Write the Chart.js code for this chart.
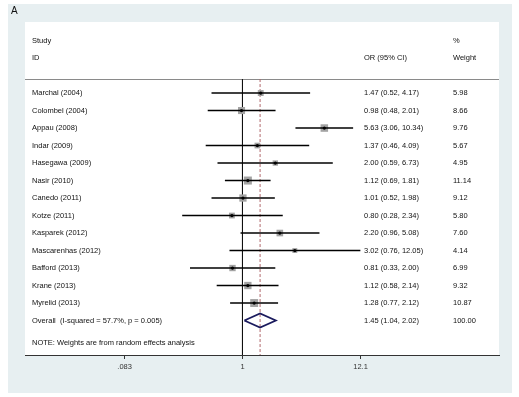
<!DOCTYPE html>
<html>
<head>
<meta charset="utf-8">
<script src="https://cdn.jsdelivr.net/npm/chart.js@4.4.1/dist/chart.umd.min.js"></script>
<style>
  body { margin: 0; background: #fff; }
  #wrap { width: 519px; height: 397px; }
</style>
</head>
<body>
<div id="wrap"><canvas id="myChart" width="519" height="397"></canvas></div>
<script>
// study data
const studies = ['Marchal (2004)', 'Colombel (2004)', 'Appau (2008)', 'Indar (2009)', 'Hasegawa (2009)',
  'Nasir (2010)', 'Canedo (2011)', 'Kotze (2011)', 'Kasparek (2012)', 'Mascarenhas (2012)',
  'Bafford (2013)', 'Krane (2013)', 'Myrelid (2013)'];
const orValues = [1.47, 0.98, 5.63, 1.37, 2.00, 1.12, 1.01, 0.80, 2.20, 3.02, 0.81, 1.12, 1.28];
const ciLow = [0.52, 0.48, 3.06, 0.46, 0.59, 0.69, 0.52, 0.28, 0.96, 0.76, 0.33, 0.58, 0.77];
const ciHigh = [4.17, 2.01, 10.34, 4.09, 6.73, 1.81, 1.98, 2.34, 5.08, 12.05, 2.00, 2.14, 2.12];
const weights = [5.98, 8.66, 9.76, 5.67, 4.95, 11.14, 9.12, 5.80, 7.60, 4.14, 6.99, 9.32, 10.87];

const overallLabel = 'Overall  (I-squared = 57.7%, p = 0.005)';
const overallOR = 1.45, overallLow = 1.04, overallHigh = 2.02, overallWeight = 100.00;
const noteText = 'NOTE: Weights are from random effects analysis';

const xTickValues = [0.083, 1, 12.1];
const xTickLabels = ['.083', '1', '12.1'];

const fmt = v => v.toFixed(2);
const overallRow = studies.length;
const yMin = -4.06, yMax = 14.97;
const headerLineY = -0.8;
const FONT = '7.5px "Liberation Sans", Arial, sans-serif';

const datasets = [];

// black point estimate dots
datasets.push({
  data: orValues.map((v, i) => ({x: v, y: i})),
  pointStyle: 'circle', pointRadius: 1.6, backgroundColor: '#000', borderWidth: 0,
  showLine: false, order: 0
});

// CI lines, one per study
studies.forEach((s, i) => {
  datasets.push({
    data: [{x: ciLow[i], y: i}, {x: ciHigh[i], y: i}],
    showLine: true, borderColor: '#000', borderWidth: 1.5, pointRadius: 0, order: 1
  });
});

// weight squares
datasets.push({
  data: orValues.map((v, i) => ({x: v, y: i})),
  pointStyle: 'rect', pointRadius: weights.map(w => 1.7 * Math.sqrt(w)),
  backgroundColor: '#a3a3a3', borderWidth: 0, showLine: false, order: 2
});

// overall diamond
datasets.push({
  data: [
    {x: overallLow, y: overallRow}, {x: overallOR, y: overallRow - 0.4},
    {x: overallHigh, y: overallRow}, {x: overallOR, y: overallRow + 0.4},
    {x: overallLow, y: overallRow}
  ],
  showLine: true, borderColor: '#1b1b5e', borderWidth: 1.8, pointRadius: 0, fill: false, order: 1
});

// null line at 1
datasets.push({
  data: [{x: 1, y: headerLineY}, {x: 1, y: yMax}],
  showLine: true, borderColor: '#111', borderWidth: 1, pointRadius: 0, order: 3
});

// overall estimate dashed line
datasets.push({
  data: [{x: overallOR, y: headerLineY}, {x: overallOR, y: yMax}],
  showLine: true, borderColor: '#b0686c', borderWidth: 1, borderDash: [3, 2], pointRadius: 0, order: 3
});

const panelPlugin = {
  id: 'panel',
  beforeDraw(chart) {
    const c = chart.ctx, a = chart.chartArea;
    c.save();
    c.fillStyle = '#ffffff';
    c.fillRect(0, 0, chart.width, chart.height);
    c.fillStyle = '#e7eff1';
    c.fillRect(8, 4, 504, 389);
    c.fillStyle = '#ffffff';
    c.fillRect(a.left, a.top, a.right - a.left, a.bottom - a.top);
    c.fillStyle = '#111';
    c.font = '10px "Liberation Sans", Arial, sans-serif';
    c.textBaseline = 'middle';
    c.fillText('A', 11, 11);
    // header rule
    const y = chart.scales.y.getPixelForValue(headerLineY);
    c.strokeStyle = '#8a8a8a';
    c.lineWidth = 1;
    c.beginPath();
    c.moveTo(a.left, Math.round(y) + 0.5);
    c.lineTo(a.right, Math.round(y) + 0.5);
    c.stroke();
    c.restore();
  },
  afterDraw(chart) {
    const c = chart.ctx, ys = chart.scales.y;
    const xName = 32, xOR = 364, xW = 453;
    c.save();
    c.fillStyle = '#111';
    c.font = FONT;
    c.textBaseline = 'middle';
    c.textAlign = 'left';
    c.fillText('Study', xName, ys.getPixelForValue(-3));
    c.fillText('ID', xName, ys.getPixelForValue(-2));
    c.fillText('OR (95% CI)', xOR, ys.getPixelForValue(-2));
    c.fillText('%', xW, ys.getPixelForValue(-3));
    c.fillText('Weight', xW, ys.getPixelForValue(-2));
    studies.forEach((s, i) => {
      const y = ys.getPixelForValue(i);
      c.fillText(s, xName, y);
      c.fillText(fmt(orValues[i]) + ' (' + fmt(ciLow[i]) + ', ' + fmt(ciHigh[i]) + ')', xOR, y);
      c.fillText(fmt(weights[i]), xW, y);
    });
    const yo = ys.getPixelForValue(overallRow);
    c.fillText(overallLabel, xName, yo);
    c.fillText(fmt(overallOR) + ' (' + fmt(overallLow) + ', ' + fmt(overallHigh) + ')', xOR, yo);
    c.fillText(fmt(overallWeight), xW, yo);
    c.fillText(noteText, xName, ys.getPixelForValue(14.3));
    c.restore();
  }
};

const ctx = document.getElementById('myChart').getContext('2d');

const graphData = {
  type: 'scatter',
  data: { datasets: datasets },
  options: {
    responsive: false,
    animation: false,
    layout: { padding: { left: 25, right: 20, top: 22, bottom: 23 } },
    plugins: { legend: { display: false }, tooltip: { enabled: false } },
    scales: {
      x: {
        type: 'logarithmic',
        min: 0.010133,
        max: 225.0,
        afterBuildTicks: scale => { scale.ticks = xTickValues.map(v => ({value: v})); },
        ticks: {
          autoSkip: false, maxRotation: 0, padding: 3, color: '#333',
          font: { size: 7.5, family: '"Liberation Sans", Arial, sans-serif' },
          callback: (v) => xTickLabels[xTickValues.indexOf(v)]
        },
        grid: { drawOnChartArea: false, tickLength: 4, color: '#333' },
        border: { color: '#333', width: 1 }
      },
      y: {
        type: 'linear', reverse: true, min: yMin, max: yMax, display: false
      }
    }
  },
  plugins: [panelPlugin]
};

const myChart = new Chart(ctx, graphData);
</script>
</body>
</html>
